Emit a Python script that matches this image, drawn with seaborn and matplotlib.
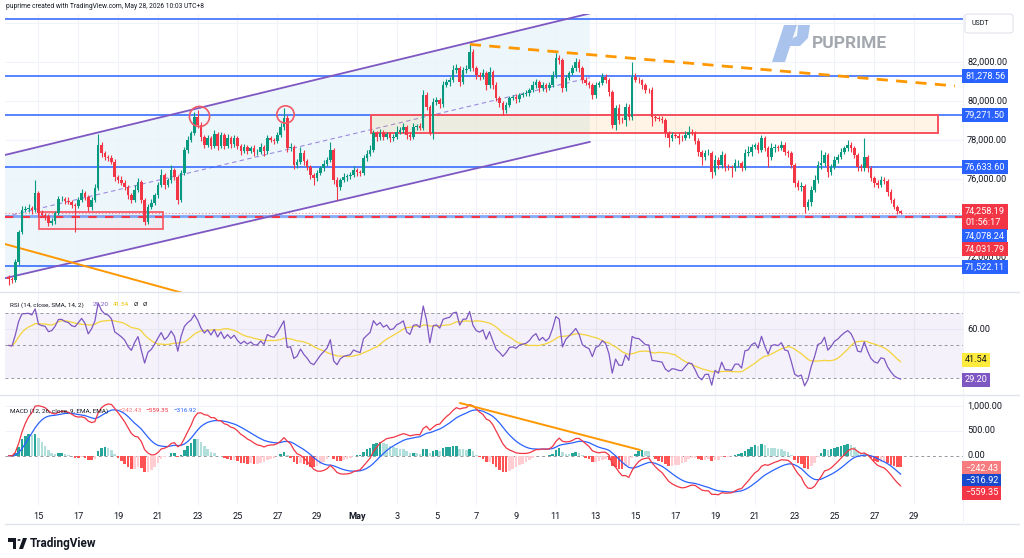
import numpy as np
import pandas as pd
import matplotlib
matplotlib.use("Agg")
import matplotlib.pyplot as plt
import seaborn as sns
from matplotlib.patches import Rectangle, Polygon, FancyBboxPatch
from matplotlib.lines import Line2D

# ---------------- data ----------------
# 4h BTC/USDT candles, first candle Apr 13 12:00 (x = days after Apr 13 00:00)
first_open = 70950.0
start_day = 0.5
bar_days = 1 / 6

closes = [
    70870, 70820, 71740, 73280, 74410, 74460, 74510, 74410, 75280, 74250,
    74150, 74100, 73740, 73840, 74250, 74970, 74990, 74870, 74820, 74660,
    74610, 74920, 75280, 75070, 74560, 74920, 75540, 77740, 77330, 77130,
    77070, 76870, 76100, 75950, 75790, 75590, 75180, 74920, 75430, 75840,
    74920, 73790, 74560, 74770, 75180, 75690, 76200, 75690, 75950, 76460,
    76100, 74920, 76300, 77480, 78000, 78360, 79180, 78770, 78150, 77740,
    78100, 77690, 78300, 77690, 78250, 77690, 78100, 77790, 78100, 77690,
    77430, 77640, 77430, 77590, 77380, 77390, 77640, 77430, 78100, 78000,
    77950, 78250, 78660, 79130, 77590, 77640, 76720, 76870, 77330, 76920,
    76610, 76200, 76050, 76300, 76560, 76770, 76970, 77480, 75950, 75590,
    75950, 76100, 76150, 76200, 76460, 76360, 76300, 77070, 77280, 77480,
    78360, 78150, 78360, 78150, 78300, 78100, 78150, 78410, 78510, 78660,
    78250, 78150, 78660, 78710, 78610, 80300, 79690, 78360, 79950, 80050,
    79840, 80820, 80970, 81070, 81590, 81690, 80970, 81590, 81620, 82510,
    81690, 81330, 81230, 81430, 80820, 81480, 80820, 80150, 79890, 79540,
    79790, 80150, 80200, 80100, 80300, 80360, 80410, 80560, 80820, 80970,
    80660, 80820, 80660, 80820, 81330, 82200, 82100, 80660, 81180, 81430,
    81690, 82000, 81690, 81070, 80920, 80820, 80300, 80820, 80920, 81230,
    81070, 80460, 78770, 79640, 79020, 79000, 79690, 79180, 81230, 81070,
    81050, 80820, 80560, 80540, 79180, 79130, 79070, 79020, 78360, 78100,
    78250, 78210, 78100, 78080, 78250, 78410, 78360, 77950, 77380, 77130,
    77330, 77340, 76360, 76970, 76720, 77230, 76610, 76600, 76560, 76820,
    76830, 76560, 77330, 77380, 77640, 77740, 77480, 78100, 77590, 77130,
    77590, 77640, 77590, 77740, 77380, 77330, 76720, 75790, 75590, 75640,
    74560, 74820, 75430, 75950, 76720, 76820, 77230, 76360, 76610, 76970,
    77130, 77380, 77590, 77740, 77590, 77230, 76610, 76560, 77130, 76560,
    76050, 75790, 75690, 75950, 75890, 75330, 74920, 74560, 74360, 74258.19,
]
upper_wick = [
    100, 80, 150, 120, 200, 150, 180, 120, 670, 100,
    150, 100, 120, 150, 100, 150, 120, 100, 180, 120,
    100, 150, 200, 120, 100, 150, 200, 560, 150, 120,
    100, 150, 130, 100, 200, 150, 120, 100, 250, 200,
    100, 80, 150, 200, 120, 150, 300, 100, 120, 260,
    100, 80, 150, 180, 200, 120, 250, 360, 150, 100,
    150, 100, 200, 100, 150, 80, 200, 100, 150, 120,
    100, 150, 120, 100, 150, 120, 200, 100, 150, 100,
    120, 150, 200, 510, 150, 200, 100, 150, 300, 150,
    100, 120, 100, 150, 120, 200, 150, 410, 100, 150,
    120, 200, 100, 150, 200, 100, 120, 150, 200, 250,
    150, 100, 200, 150, 120, 100, 150, 300, 150, 200,
    100, 150, 200, 120, 150, 260, 150, 100, 200, 150,
    120, 200, 150, 150, 250, 200, 120, 150, 200, 360,
    150, 100, 150, 200, 120, 250, 100, 150, 120, 100,
    150, 120, 100, 150, 120, 100, 150, 120, 200, 150,
    100, 150, 120, 150, 200, 260, 150, 100, 150, 120,
    150, 200, 150, 100, 150, 100, 120, 150, 100, 200,
    150, 100, 120, 150, 200, 150, 200, 150, 770, 200,
    150, 100, 120, 100, 150, 120, 100, 150, 120, 100,
    150, 100, 120, 150, 200, 300, 150, 100, 150, 120,
    150, 200, 100, 250, 150, 200, 100, 150, 120, 200,
    150, 100, 200, 300, 150, 120, 150, 150, 100, 120,
    250, 150, 120, 200, 150, 100, 120, 100, 150, 200,
    100, 150, 200, 250, 200, 660, 150, 100, 150, 200,
    150, 200, 120, 250, 150, 100, 120, 150, 970, 100,
    120, 100, 150, 200, 150, 100, 150, 120, 100, 60,
]
lower_wick = [
    300, 150, 100, 150, 120, 100, 150, 200, 100, 150,
    120, 200, 150, 100, 150, 100, 120, 150, 100, 150,
    1330, 120, 100, 150, 200, 150, 100, 120, 200, 150,
    150, 120, 200, 150, 100, 150, 200, 150, 100, 120,
    150, 150, 100, 120, 100, 150, 120, 200, 100, 150,
    150, 200, 100, 120, 150, 100, 120, 150, 200, 150,
    100, 150, 120, 200, 100, 150, 100, 200, 150, 150,
    200, 100, 150, 120, 200, 150, 100, 250, 150, 100,
    150, 100, 120, 150, 200, 150, 200, 150, 100, 200,
    150, 200, 360, 150, 100, 150, 120, 100, 200, 670,
    150, 100, 200, 150, 120, 200, 150, 100, 150, 120,
    100, 200, 150, 150, 120, 200, 150, 100, 120, 150,
    200, 150, 100, 150, 120, 100, 150, 110, 300, 150,
    200, 150, 120, 200, 100, 150, 200, 120, 150, 100,
    150, 200, 150, 100, 250, 150, 200, 150, 200, 250,
    150, 120, 100, 200, 150, 100, 120, 150, 100, 150,
    200, 150, 200, 120, 100, 150, 200, 200, 150, 100,
    120, 150, 200, 150, 100, 150, 200, 150, 100, 120,
    150, 200, 150, 250, 200, 150, 300, 150, 150, 120,
    150, 200, 150, 120, 470, 150, 100, 150, 200, 460,
    150, 120, 300, 150, 100, 150, 120, 150, 200, 410,
    150, 120, 310, 150, 200, 150, 200, 150, 460, 150,
    200, 150, 120, 150, 200, 100, 150, 120, 150, 520,
    150, 200, 150, 100, 150, 200, 150, 200, 150, 200,
    310, 150, 200, 100, 150, 200, 150, 250, 150, 100,
    150, 120, 100, 150, 200, 150, 200, 150, 150, 200,
    150, 200, 150, 100, 150, 200, 150, 120, 150, 80,
]

tick_days = [2, 4, 6, 8, 10, 12, 14, 16, 18, 20, 22, 24, 26, 28, 30, 32, 34, 36, 38, 40, 42, 44, 46]
tick_labels = ["15", "17", "19", "21", "23", "25", "27", "29", "May", "3", "5", "7", "9",
               "11", "13", "15", "17", "19", "21", "23", "25", "27", "29"]

blue_levels = [84200, 81278.56, 79271.50, 76633.60, 71522.11]
last_price = 74258.19
avg_level = 74078.24
red_level = 74031.79

channel_days = [0.32, 29.71]
channel_upper = [77230, 84490]
channel_lower = [70910, 77900]
orange_days = [0.32, 9.61]
orange_prices = [72660, 70050]
dashed_days = [23.68, 48.06]
dashed_prices = [82900, 80770]
rect_a = (2.03, 8.26, 73430, 74320)
rect_b = (18.69, 47.2, 78360, 79280)
circle_days = [10.07, 14.39]
circle_prices = [79243, 79330]
macd_trend_days = [23.18, 32.23]
macd_trend_vals = [1060, 115]

price_tick_vals = [82000, 80000, 78000, 76000, 72000]
price_tick_text = ["82,000.00", "80,000.00", "78,000.00", "76,000.00", "72,000.00"]

# ---------------- derived series ----------------
n = len(closes)
c = np.array(closes, dtype=float)
o = np.concatenate([[first_open], c[:-1]])
hi = np.maximum(o, c) + np.array(upper_wick)
lo = np.minimum(o, c) - np.array(lower_wick)
days = start_day + np.arange(n) * bar_days

# RSI (14, Wilder) with a neutral starting average
ag = al = 250.0
rsi = [50.0]
for d in np.diff(c):
    ag = (ag * 13 + max(d, 0)) / 14
    al = (al * 13 + max(-d, 0)) / 14
    rsi.append(100 - 100 / (1 + ag / al))
rsi = pd.Series(rsi)
rsi_ma = rsi.rolling(14, min_periods=1).mean()

cs = pd.Series(c)
macd = cs.ewm(span=12, adjust=False).mean() - cs.ewm(span=26, adjust=False).mean()
signal = macd.ewm(span=9, adjust=False).mean()
hist = macd - signal

# ---------------- figure ----------------
sns.set_theme(style="white")
plt.rcParams["font.family"] = ["Roboto", "DejaVu Sans"]
W, H = 1024, 558
fig = plt.figure(figsize=(W / 100, H / 100), dpi=100)
fig.patch.set_facecolor("white")

def fx(x):
    return x / W

def fy(y):
    return 1 - y / H

L, R = 5, 963
def rect(top, bottom):
    return [fx(L), fy(bottom), fx(R) - fx(L), (bottom - top) / H]

ax_p = fig.add_axes(rect(14, 292))
ax_r = fig.add_axes(rect(292, 395), sharex=ax_p)
ax_m = fig.add_axes(rect(395, 505), sharex=ax_p)

for ax in (ax_p, ax_r, ax_m):
    ax.set_facecolor("white")
    for s in ax.spines.values():
        s.set_visible(False)
    ax.tick_params(left=False, bottom=False, labelleft=False, labelbottom=False, length=0)

ax_p.set_xlim(0.317, 48.46)
ax_p.set_ylim(70202, 84458)
ax_r.set_ylim(19.6, 82.7)
ax_m.set_ylim(-992, 1221)

grid_c = "#F0F3FA"
ax_m.set_xticks(tick_days)
ax_m.set_xticklabels(tick_labels)
for ax in (ax_p, ax_r, ax_m):
    ax.grid(axis="x", color=grid_c, lw=0.8)
ax_p.set_yticks([72000, 74000, 76000, 78000, 80000, 82000, 84000])
ax_p.grid(axis="y", color=grid_c, lw=0.8)
ax_r.set_yticks([60])
ax_r.grid(axis="y", color=grid_c, lw=0.8)
ax_m.set_yticks([500, 1000])
ax_m.grid(axis="y", color=grid_c, lw=0.8)
ax_m.tick_params(axis="x", labelbottom=True, pad=5, labelsize=6.6, labelcolor="#131722")
for t in ax_m.get_xticklabels():
    if t.get_text() == "May":
        t.set_fontweight("bold")

# ---- price panel ----
up_c, dn_c = "#089981", "#F23645"
chan = Polygon([[channel_days[0], channel_lower[0]], [channel_days[1], channel_lower[1]],
                [channel_days[1], channel_upper[1]], [channel_days[0], channel_upper[0]]],
               closed=True, fc="#E6F4FA", ec="none", alpha=0.75, zorder=1)
ax_p.add_patch(chan)
sns.lineplot(x=channel_days, y=channel_upper, ax=ax_p, color="#7E57C2", lw=1.3, zorder=4)
sns.lineplot(x=channel_days, y=channel_lower, ax=ax_p, color="#7E57C2", lw=1.3, zorder=4)
mid = [(a + b) / 2 for a, b in zip(channel_upper, channel_lower)]
ax_p.plot(channel_days, mid, color="#9D8BE0", lw=0.8, ls=(0, (4, 3)), zorder=2)

# rectangles
ra = Rectangle((rect_a[0], rect_a[2]), rect_a[1] - rect_a[0], rect_a[3] - rect_a[2],
               fc=(0.95, 0.21, 0.27, 0.04), ec="#F7525F", lw=1.2, zorder=3)
ax_p.add_patch(ra)
rb = Rectangle((rect_b[0], rect_b[2]), rect_b[1] - rect_b[0], rect_b[3] - rect_b[2],
               fc=(1.0, 0.6, 0.0, 0.10), ec="#F7525F", lw=1.4, zorder=3)
ax_p.add_patch(rb)

for lvl in blue_levels:
    ax_p.axhline(lvl, color="#2962FF", lw=1.1, zorder=2)
ax_p.axhline(avg_level, color="#5C8DF5", lw=2.0, alpha=0.75, zorder=2)
ax_p.axhline(red_level, color="#F23645", lw=1.5, ls=(0, (4, 4)), zorder=2)
ax_p.axhline(last_price, color="#F23645", lw=0.8, ls=(0, (1, 2)), alpha=0.6, zorder=2)

ax_p.plot(orange_days, orange_prices, color="#FF9800", lw=1.4, zorder=4)
ax_p.plot(dashed_days, dashed_prices, color="#FF9800", lw=2.0, ls=(0, (4, 3)), zorder=4)

# candles
cols = np.where(c >= o, up_c, dn_c)
ax_p.vlines(days, lo, hi, colors=cols, lw=0.8, zorder=5)
body_h = np.maximum(np.abs(c - o), 18)
ax_p.bar(days, body_h, bottom=np.minimum(o, c), width=0.13, color=cols, lw=0, zorder=6)

ax_p.plot(circle_days[:1], circle_prices[:1], "o", ms=14.5, mfc="none", mec="#F05A66", mew=1.2, zorder=7)
ax_p.plot(circle_days[1:], circle_prices[1:], "o", ms=12.5, mfc="none", mec="#F05A66", mew=1.2, zorder=7)

# ---- RSI panel ----
ax_r.axhspan(30, 70, color="#7E57C2", alpha=0.08, lw=0)
for v in (70, 50, 30):
    ax_r.axhline(v, color="#9598A1", lw=0.7, ls=(0, (3, 3)))
sns.lineplot(x=days, y=rsi_ma.values, ax=ax_r, color="#F5D33A", lw=0.9)
sns.lineplot(x=days, y=rsi.values, ax=ax_r, color="#7E57C2", lw=0.9)

# ---- MACD panel ----
hcol = []
for i, h in enumerate(hist.values):
    prev = hist.values[i - 1] if i > 0 else h
    if h >= 0:
        hcol.append("#26A69A" if h >= prev else "#B2DFDB")
    else:
        hcol.append("#FFCDD2" if h >= prev else "#FF5252")
ax_m.bar(days, hist.values, width=0.13, color=hcol, lw=0, zorder=2)
ax_m.axhline(0, color="#9598A1", lw=0.7, ls=(0, (3, 3)), zorder=1)
sns.lineplot(x=days, y=signal.values, ax=ax_m, color="#2962FF", lw=0.9, zorder=3)
sns.lineplot(x=days, y=macd.values, ax=ax_m, color="#F23645", lw=0.9, zorder=4)
ax_m.plot(macd_trend_days, macd_trend_vals, color="#FF9800", lw=1.4, zorder=5)

for ax in (ax_p, ax_r, ax_m):
    if ax.get_legend():
        ax.get_legend().remove()
    ax.set_xlabel("")
    ax.set_ylabel("")

# ---------------- frame lines ----------------
for yy in (292, 395):
    fig.add_artist(Line2D([fx(0), fx(1019)], [fy(yy), fy(yy)], color="#E0E3EB", lw=1.0))
fig.add_artist(Line2D([fx(5), fx(1019)], [fy(524), fy(524)], color="#E0E3EB", lw=1.0))
fig.add_artist(Line2D([fx(963), fx(963)], [fy(14), fy(524)], color="#F0F3FA", lw=0.8))

# ---------------- texts ----------------
ink = "#131722"
fig.text(fx(6), fy(7), "puprime created with TradingView.com, May 28, 2026 10:03 UTC+8",
         fontsize=4.8, color=ink, va="center", ha="left")

fs = 6.6
for v, t in zip(price_tick_vals, price_tick_text):
    ypix = (85176 - v) / 51.28
    fig.text(fx(967), fy(ypix), t, fontsize=fs, color=ink, va="center", ha="left", zorder=3)

def box_label(ypix, txt, fc, tc="white", x=965):
    fig.text(fx(x), fy(ypix), txt, fontsize=fs, color=tc, va="center", ha="left", zorder=6,
             linespacing=1.3,
             bbox=dict(boxstyle="square,pad=0.28", fc=fc, ec="none"))

box_label(76, "81,278.56", "#2962FF")
box_label(115, "79,271.50", "#2962FF")
box_label(166.7, "76,633.60", "#2962FF")
box_label(217, "74,258.19\n01:56:17", "#F23645")
box_label(236.5, "74,078.24", "#2962FF")
box_label(249, "74,031.79", "#F23645")
box_label(267.3, "71,522.11", "#2962FF")

usdt_box = FancyBboxPatch((fx(965), fy(33)), fx(1013) - fx(965), (33 - 14) / H,
                          boxstyle="round,pad=0,rounding_size=0.004", transform=fig.transFigure,
                          fc="white", ec="#E0E3EB", lw=0.8, zorder=5)
fig.add_artist(usdt_box)
fig.text(fx(971), fy(23.5), "USDT", fontsize=5.0, color=ink, va="center", ha="left", zorder=6)

fig.text(fx(967), fy(329), "60.00", fontsize=fs, color=ink, va="center", ha="left")
box_label(360, "41.54", "#FFEB3B", tc=ink)
box_label(380, "29.20", "#7E57C2")
fig.text(fx(967), fy(406), "1,000.00", fontsize=fs, color=ink, va="center", ha="left")
fig.text(fx(967), fy(430.7), "500.00", fontsize=fs, color=ink, va="center", ha="left")
fig.text(fx(967), fy(455.7), "0.00", fontsize=fs, color=ink, va="center", ha="left")
box_label(468.3, "\u2212242.43", "#F77C80")
box_label(480.7, "\u2212316.92", "#1848CC")
box_label(492.7, "\u2212559.35", "#F23645")

tf = 4.6
def title_parts(ypix, parts):
    for x, txt, col in parts:
        fig.text(fx(x), fy(ypix), txt, fontsize=tf, color=col, va="center", ha="left")

title_parts(305, [(10, "RSI (14, close, SMA, 14, 2)", ink), (93, "29.20", "#7E57C2"),
                  (113, "41.54", "#E6C200"), (134, "\u00d8", ink), (143, "\u00d8", ink)])
title_parts(411, [(10, "MACD (12, 26, close, 9, EMA, EMA)", ink), (118, "\u2212242.43", "#F77C80"),
                  (145, "\u2212559.35", "#F23645"), (173, "\u2212316.92", "#2962FF")])

# PUPRIME watermark
stem = Polygon([[fx(772), fy(62)], [fx(785), fy(62)], [fx(797), fy(25)], [fx(784), fy(25)]],
               closed=True, transform=fig.transFigure, fc="#A9C3EC", ec="none", zorder=5)
bowl = Polygon([[fx(798), fy(25)], [fx(810), fy(25)], [fx(808), fy(38)], [fx(800), fy(46)],
                [fx(789), fy(46)], [fx(793), fy(38)], [fx(797), fy(36)]],
               closed=True, transform=fig.transFigure, fc="#A9C3EC", ec="none", zorder=5)
fig.add_artist(stem)
fig.add_artist(bowl)
fig.text(fx(812), fy(44), "PUPRIME", fontsize=12.5, fontweight="bold", color="#A3A7AE",
         va="center", ha="left", zorder=5)

# TradingView footer
logo1 = Polygon([[fx(8), fy(538)], [fx(16), fy(538)], [fx(16), fy(549)], [fx(12.5), fy(549)],
                 [fx(12.5), fy(541.5)], [fx(8), fy(541.5)]], closed=True,
                transform=fig.transFigure, fc=ink, ec="none")
logo2 = Polygon([[fx(19), fy(549)], [fx(23), fy(538)], [fx(27), fy(538)], [fx(23), fy(549)]],
                closed=True, transform=fig.transFigure, fc=ink, ec="none")
fig.add_artist(logo1)
fig.add_artist(logo2)
fig.add_artist(matplotlib.patches.Circle((fx(19), fy(540)), 1.6 / W, transform=fig.transFigure,
                                         fc=ink, ec="none"))
fig.text(fx(30), fy(543.5), "TradingView", fontsize=8.5, fontweight="bold", color=ink,
         va="center", ha="left")

fig.savefig("out.png", dpi=100, facecolor="white")
